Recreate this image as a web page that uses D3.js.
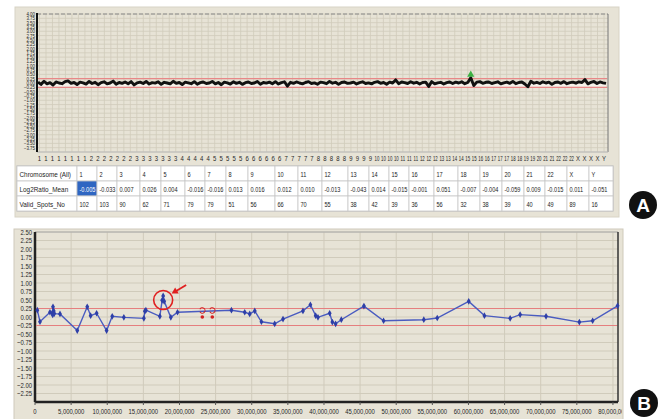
<!DOCTYPE html>
<html><head><meta charset="utf-8">
<script src="https://cdn.jsdelivr.net/npm/d3@7"></script>
<style>body{margin:0;background:#fff}svg{display:block}</style>
</head><body><svg id="c" width="660" height="419"></svg>
<script>
// ---------- DATA ----------
const chromosomes = ["1","2","3","4","5","6","7","8","9","10","11","12","13","14","15","16","17","18","19","20","21","22","X","Y"];
const log2RatioMean = ["-0.005","-0.033","0.007","0.026","0.004","-0.016","-0.016","0.013","0.016","0.012","0.010","-0.013","-0.043","0.014","-0.015","-0.001","0.051","-0.007","-0.004","-0.059","0.009","-0.015","0.011","-0.051"];
const validSpotsNo = [102,103,90,62,71,79,79,51,56,66,70,55,38,42,39,36,56,32,38,39,40,49,89,16];

const axisALabels = ["1","1","1","1","1","1","1","1","2","2","2","2","2","2","2","3","3","3","3","3","3","3","4","4","4","4","4","5","5","5","5","5","6","6","6","6","6","6","7","7","7","7","7","8","8","8","8","8","9","9","9","9","10","10","10","10","11","11","11","12","12","12","13","13","14","14","15","15","16","16","17","17","17","18","18","19","19","20","21","21","22","22","22","X","X","X","X","Y"];

// genome-wide log2 ratio profile (panel A), estimated along the x axis
const profileA = [
 0.05,-0.08,0.10,-0.05,0.02,-0.12,0.06,0.00,-0.04,0.08,
 0.12,-0.02,0.03,-0.09,0.05,0.01,-0.06,0.09,-0.03,0.04,
 -0.10,0.02,0.07,-0.05,0.00,0.11,-0.07,0.03,-0.02,0.06,
 -0.04,0.08,-0.11,0.01,0.05,-0.03,0.09,-0.06,0.02,-0.01,
 0.07,-0.08,0.04,0.00,-0.05,0.10,-0.02,0.03,-0.09,0.05,
 0.01,-0.04,0.08,-0.07,0.02,0.06,-0.03,0.00,0.09,-0.05,
 0.03,-0.10,0.05,0.01,-0.06,0.07,-0.02,0.04,-0.08,0.02,
 0.06,-0.03,0.00,0.09,-0.07,0.03,-0.01,0.05,-0.04,0.08,
 -0.06,0.02,0.07,-0.18,0.04,-0.02,0.06,0.00,-0.05,0.03,
 0.08,-0.03,0.01,-0.07,0.05,0.02,-0.04,0.09,-0.01,0.04,
 -0.08,0.03,0.06,-0.02,0.00,0.05,-0.06,0.02,0.07,-0.03,
 0.01,-0.05,0.04,0.08,-0.02,0.03,-0.07,0.05,0.00,0.18,
 -0.04,0.06,0.02,-0.03,0.07,-0.01,0.04,-0.06,0.03,0.05,
 -0.20,0.08,-0.05,0.01,0.04,-0.06,0.02,0.06,-0.03,0.05,
 0.00,0.07,-0.04,0.03,0.30,-0.15,0.05,0.08,-0.02,0.04,
 0.06,-0.03,0.02,0.07,-0.05,0.01,0.05,-0.02,0.09,-0.04,
 0.03,0.06,-0.06,-0.22,0.10,-0.01,0.04,-0.03,0.07,0.00,
 0.05,-0.08,0.03,0.06,-0.02,0.08,-0.04,0.02,0.05,-0.01,
 0.07,0.03,0.20,-0.05,0.04,0.09,-0.03,0.06,0.01,-0.02
];
const gainMarkIndex = 144;   // green marker in panel A
const gainMarkValue = 0.48;

// panel B: chromosome detail (position in bp, log2 ratio)
const posB = [0.32,0.69,2.07,2.39,2.45,2.49,2.59,2.67,3.46,5.85,7.23,7.70,8.53,9.91,10.69,12.30,15.07,15.21,15.35,17.28,17.60,17.74,17.88,18.80,19.73,27.19,29.03,29.72,30.42,31.34,33.18,34.33,37.09,38.12,38.85,39.17,40.79,41.16,41.61,42.40,45.53,48.25,53.82,55.68,60.04,62.21,65.77,67.15,70.74,75.35,77.19,80.64].map(d => d * 1e6);
const valB = [0.20,-0.14,0.14,0.12,0.06,0.30,0.18,0.10,0.09,-0.40,0.30,0.04,0.11,-0.40,0.02,-0.01,-0.04,0.17,0.20,0.02,0.49,0.62,0.46,-0.01,0.14,0.20,0.14,0.09,0.18,-0.14,-0.20,-0.06,0.18,0.36,0.04,-0.01,0.11,-0.15,-0.20,-0.08,0.32,-0.11,-0.08,-0.03,0.46,0.04,-0.04,0.07,0.02,-0.15,-0.11,0.33];
const redPosB = [23.16e6, 24.54e6];
const redValB = [0.0, 0.0];
const highlightIndex = 21;   // circled peak
const thresholds = [0.25, -0.25];

// ---------- DRAW ----------
const svg = d3.select("#c");
const beige = "#e7e3d6", grid = "#d0cbbb", txt = "#262626";
const font = "'Liberation Sans',Arial,sans-serif";

function ctext(g, x, y, s, size, anchor, sx, fill) {
  return g.append("text")
    .attr("transform", `translate(${x},${y}) scale(${sx},1)`)
    .attr("text-anchor", anchor).attr("font-family", font)
    .attr("font-size", size).attr("fill", fill || txt).text(s);
}

// ===== Panel A =====
svg.append("rect").attr("x",15).attr("y",7).attr("width",604).attr("height",210).attr("fill",beige).attr("stroke","#d8d3c5");
const A = {l:37, r:608, t:14, b:152};
const yA = d3.scaleLinear().domain([-4,4]).range([A.b, A.t]);
const xA = d3.scaleLinear().domain([0, profileA.length-1]).range([A.l+1, A.r-2]);
const xLab = d3.scalePoint().domain(d3.range(axisALabels.length)).range([A.l+2.5, A.r-4]);

const gA = svg.append("g");
gA.selectAll(".hg").data(d3.range(-4, 4.001, 0.25)).join("line")
  .attr("x1",A.l).attr("x2",A.r).attr("y1",d=>yA(d)).attr("y2",d=>yA(d))
  .attr("stroke",grid).attr("stroke-width",0.8);
gA.selectAll(".vg").data(d3.range(axisALabels.length)).join("line")
  .attr("x1",d=>xLab(d)).attr("x2",d=>xLab(d)).attr("y1",A.t).attr("y2",A.b)
  .attr("stroke",grid).attr("stroke-width",0.8);
gA.append("line").attr("x1",A.l).attr("x2",A.r).attr("y1",A.t).attr("y2",A.t).attr("stroke","#888").attr("stroke-dasharray","4,2");
gA.append("line").attr("x1",A.r).attr("x2",A.r).attr("y1",A.t).attr("y2",A.b).attr("stroke","#777");
gA.append("line").attr("x1",A.l).attr("x2",A.r).attr("y1",A.b).attr("y2",A.b).attr("stroke","#bbb");
gA.append("line").attr("x1",A.l).attr("x2",A.l).attr("y1",A.t-1).attr("y2",A.b).attr("stroke","#111").attr("stroke-width",2);
d3.range(4, -3.76, -0.25).forEach(d => ctext(gA, A.l-2, yA(d)+2, d3.format(".2f")(d), 5.2, "end", 0.85));
axisALabels.forEach((d,i) => ctext(gA, xLab(i), A.b+9, d, 7, "middle", d.length>1 ? 0.62 : 0.85));
gA.append("rect").attr("x",A.l+1).attr("width",A.r-A.l-3).attr("y",yA(-0.02)).attr("height",yA(-0.22)-yA(-0.02)).attr("fill","#f4f1ea");
thresholds.forEach(t=>gA.append("line").attr("x1",A.l+1).attr("x2",A.r-1).attr("y1",yA(t)).attr("y2",yA(t)).attr("stroke","#e88888").attr("stroke-width",1.2));
gA.append("path").datum(profileA)
  .attr("d", d3.line().x((d,i)=>xA(i)).y(d=>yA(d)))
  .attr("fill","none").attr("stroke","#111").attr("stroke-width",2.9).attr("stroke-linejoin","round");
gA.append("path").attr("d", d3.symbol(d3.symbolTriangle, 22)())
  .attr("transform",`translate(${xA(gainMarkIndex)},${yA(gainMarkValue)})`).attr("fill","#3cb043");

// table
const T = {l:17, r:613, t:166, rh:15};
const colEdges = [17,77,97,117,140,161,185,205,226,248,275,298,322,348,369,389,409,434,458,480,502,524,545,567,589,613];
const rows = [
  ["Chromosome (All)"].concat(chromosomes),
  ["Log2Ratio_Mean"].concat(log2RatioMean),
  ["Valid_Spots_No"].concat(validSpotsNo.map(String))
];
const gT = svg.append("g");
gT.append("rect").attr("x",T.l).attr("y",T.t).attr("width",T.r-T.l).attr("height",T.rh*3).attr("fill","#fff").attr("stroke","#b9b9b9");
rows.forEach((row, ri) => {
  row.forEach((cell, ci) => {
    const x0 = colEdges[ci], x1 = colEdges[ci+1], y0 = T.t + ri*T.rh;
    const hi = (ri===1 && ci===1);
    gT.append("rect").attr("x",x0).attr("y",y0).attr("width",x1-x0).attr("height",T.rh)
      .attr("fill", hi ? "#2f66c2" : "#fff").attr("stroke","#c9c9c9").attr("stroke-width",0.8);
    ctext(gT, x0+2.5, y0+T.rh/2+3, cell, 8, "start", ci===0 ? 0.8 : 0.7, hi ? "#fff" : "#1e1e1e");
  });
});

// ===== Panel B =====
svg.append("rect").attr("x",14).attr("y",229).attr("width",609).attr("height",192).attr("fill",beige).attr("stroke","#cfcabb");
const B = {l:35, r:618, t:232, b:402};
const yB = d3.scaleLinear().domain([-2.5,2.5]).range([B.b, B.t]);
const xB = d3.scaleLinear().domain([0, 80.7e6]).range([B.l, B.r]);
const gB = svg.append("g");
const xTicksB = d3.range(0, 80000001, 5000000);
gB.selectAll(".hg").data(d3.range(-2.25, 2.51, 0.25)).join("line")
  .attr("x1",B.l).attr("x2",B.r).attr("y1",d=>yB(d)).attr("y2",d=>yB(d))
  .attr("stroke",grid).attr("stroke-width",1);
gB.selectAll(".vg").data(xTicksB.slice(1)).join("line")
  .attr("x1",d=>xB(d)).attr("x2",d=>xB(d)).attr("y1",B.t).attr("y2",B.b)
  .attr("stroke",grid).attr("stroke-width",1);
gB.append("line").attr("x1",B.l).attr("x2",B.r).attr("y1",B.t).attr("y2",B.t).attr("stroke","#aaa");
gB.append("line").attr("x1",B.r).attr("x2",B.r).attr("y1",B.t).attr("y2",B.b).attr("stroke","#333").attr("stroke-width",1.5);
gB.append("line").attr("x1",B.l).attr("x2",B.l).attr("y1",B.t).attr("y2",B.b).attr("stroke","#222").attr("stroke-width",2.5);
gB.append("line").attr("x1",B.l).attr("x2",B.r).attr("y1",B.b).attr("y2",B.b).attr("stroke","#222").attr("stroke-width",2.5);
gB.selectAll(".tk").data(xTicksB).join("line")
  .attr("x1",d=>xB(d)).attr("x2",d=>xB(d)).attr("y1",B.b).attr("y2",B.b+3).attr("stroke","#555");
d3.range(2.5, -2.26, -0.25).forEach(d => ctext(gB, B.l-3, yB(d)+2.6, d3.format(".2f")(Math.abs(d)<1e-9?0:d), 7.4, "end", 0.8));
svg.append("clipPath").attr("id","cb").append("rect").attr("x",0).attr("y",400).attr("width",622).attr("height",19);
const gBx = gB.append("g").attr("clip-path","url(#cb)");
xTicksB.forEach(d => ctext(gBx, xB(d), B.b+12, d3.format(",")(d), 7.8, "middle", 0.76));
thresholds.forEach(t=>gB.append("line").attr("x1",B.l+1).attr("x2",B.r-1).attr("y1",yB(t)).attr("y2",yB(t)).attr("stroke","#e57f7f").attr("stroke-width",1.2));
const ptsB = posB.map((p,i)=>[p,valB[i]]);
gB.append("path").datum(ptsB)
  .attr("d", d3.line().x(d=>xB(d[0])).y(d=>yB(d[1])))
  .attr("fill","none").attr("stroke","#4a5cc0").attr("stroke-width",1.4);
gB.selectAll(".pt").data(ptsB).join("path")
  .attr("d", d3.symbol(d3.symbolDiamond, 13)())
  .attr("transform", d=>`translate(${xB(d[0])},${yB(d[1])})`).attr("fill","#2e3fa8");
redPosB.forEach((p,i)=>{
  const cx = xB(p), cy = yB(redValB[i]);
  gB.append("circle").attr("cx",cx).attr("cy",cy).attr("r",1.8).attr("fill","#d42020");
  gB.append("path").attr("d", d3.arc()({innerRadius:2.2, outerRadius:3.2, startAngle:Math.PI*0.15, endAngle:Math.PI*1.85}))
    .attr("transform",`translate(${cx},${cy-6.5}) rotate(-90)`).attr("fill","#d42020");
});
const hx = xB(posB[highlightIndex]), hy = yB(valB[highlightIndex]-0.12);
gB.append("circle").attr("cx",hx).attr("cy",hy).attr("r",9.5).attr("fill","none").attr("stroke","#e02020").attr("stroke-width",1.6);
gB.append("line").attr("x1",hx+23).attr("y1",hy-15).attr("x2",hx+13).attr("y2",hy-9).attr("stroke","#e02020").attr("stroke-width",1.8);
gB.append("path").attr("d", d3.symbol(d3.symbolTriangle, 22)())
  .attr("transform",`translate(${hx+12},${hy-8.5}) rotate(-120)`).attr("fill","#e02020");

// ===== Panel letters =====
[["A",643,205],["B",644,403]].forEach(([t,cx,cy])=>{
  svg.append("circle").attr("cx",cx).attr("cy",cy).attr("r",14).attr("fill","#111");
  svg.append("text").attr("x",cx).attr("y",cy+6.5).attr("text-anchor","middle")
    .attr("font-family",font).attr("font-weight","bold").attr("font-size",19).attr("fill","#fff").text(t);
});
</script></body></html>
